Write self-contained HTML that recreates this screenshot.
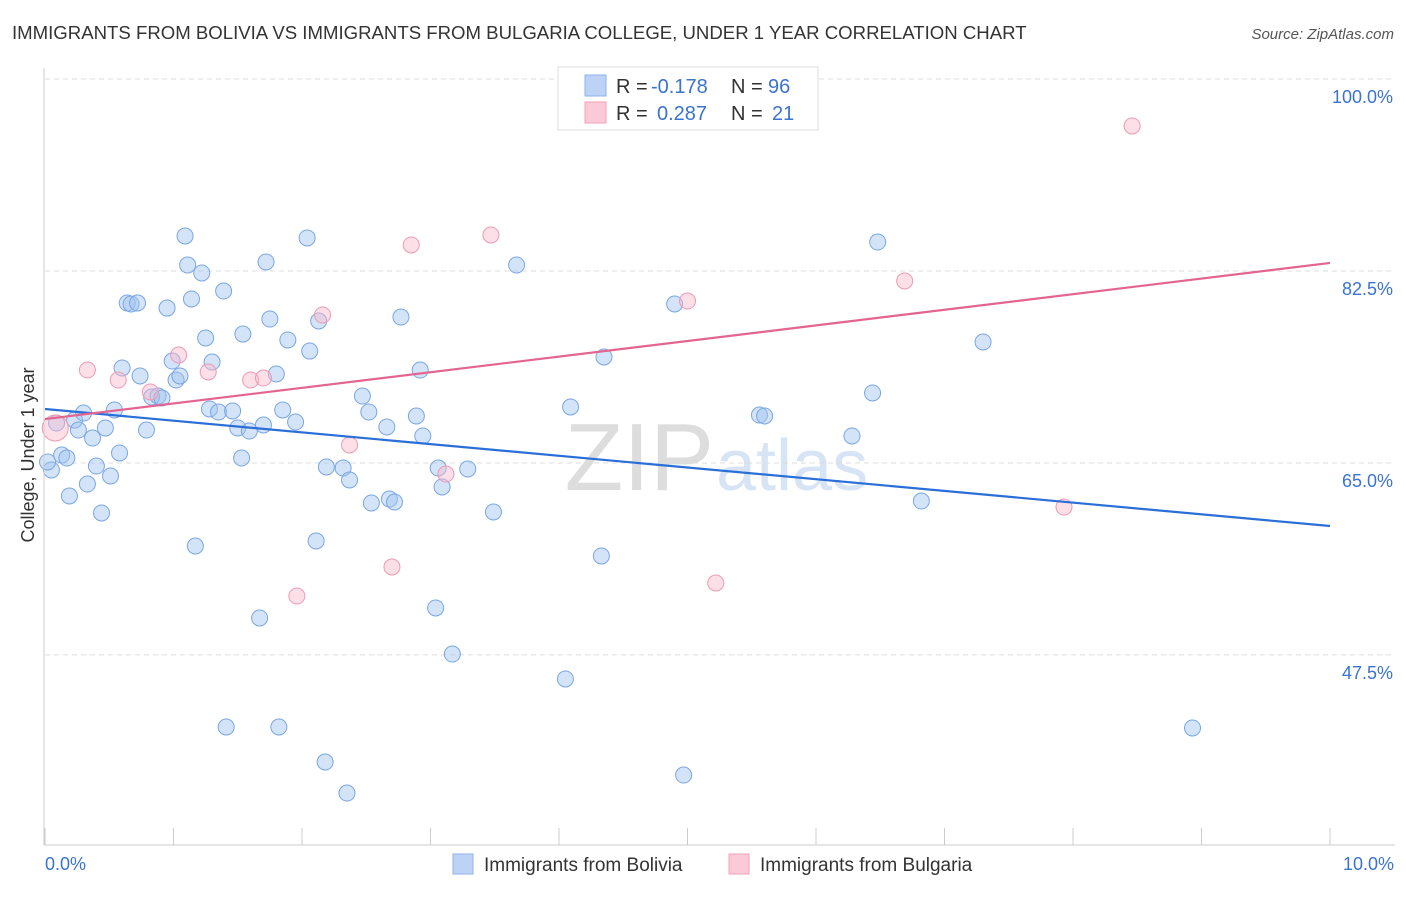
<!DOCTYPE html>
<html><head><meta charset="utf-8"><style>
body{margin:0;background:#fff;font-family:"Liberation Sans",sans-serif;}
svg text{font-family:"Liberation Sans",sans-serif;}
</style></head><body>
<svg id="chart" width="1406" height="892" xmlns="http://www.w3.org/2000/svg">
<text x="12" y="39" font-size="18.6" fill="#333">IMMIGRANTS FROM BOLIVIA VS IMMIGRANTS FROM BULGARIA COLLEGE, UNDER 1 YEAR CORRELATION CHART</text>
<text x="1394" y="39" font-size="15" fill="#555" font-style="italic" text-anchor="end">Source: ZipAtlas.com</text>
<text x="714" y="490" font-size="96" fill="#ddd" text-anchor="end" font-family="Liberation Serif">ZIP</text>
<text x="716" y="490" font-size="72" fill="#d6e4f5">atlas</text>
<text transform="translate(34,455) rotate(-90)" font-size="18" fill="#333" text-anchor="middle">College, Under 1 year</text>
<g id="grid"></g><g id="ticks"></g><g id="pts"></g><g id="lines"></g>
<line x1="44" y1="68" x2="44" y2="845" stroke="#ccc"/>
<line x1="44" y1="845" x2="1395" y2="845" stroke="#ccc"/>
<text x="45" y="870" font-size="18" fill="#3a73d0">0.0%</text>
<text x="1394" y="870" font-size="18" fill="#3a73d0" text-anchor="end">10.0%</text>
<g>
<rect x="558" y="67" width="260" height="63" fill="#fff" stroke="#ddd"/>
<rect x="585" y="75" width="21" height="21" fill="#bcd3f5" stroke="#8fb2e8"/>
<rect x="585" y="102" width="21" height="21" fill="#fbcad8" stroke="#f0a0b8"/>
<text x="616" y="93" font-size="20" fill="#333">R = </text><text x="651" y="93" font-size="20" fill="#3a73d0">-0.178</text>
<text x="731" y="93" font-size="20" fill="#333">N = </text><text x="768" y="93" font-size="20" fill="#3a73d0">96</text>
<text x="616" y="120" font-size="20" fill="#333">R = </text><text x="657" y="120" font-size="20" fill="#3a73d0">0.287</text>
<text x="731" y="120" font-size="20" fill="#333">N = </text><text x="772" y="120" font-size="20" fill="#3a73d0">21</text>
</g>
<g>
<rect x="453" y="854" width="20" height="20" fill="#bcd3f5" stroke="#8fb2e8"/>
<text x="484" y="871" font-size="19" fill="#333">Immigrants from Bolivia</text>
<rect x="729" y="854" width="20" height="20" fill="#fbcad8" stroke="#f0a0b8"/>
<text x="760" y="871" font-size="19" fill="#333">Immigrants from Bulgaria</text>
</g>
</svg>
<script>
const yTicks=[100,82.5,65,47.5];
const yTickLabels=["100.0%","82.5%","65.0%","47.5%"];
const xTicks=[0,1,2,3,4,5,6,7,8,9,10];
const boliviaX=[.05,.02,.09,.13,.17,.19,.23,.26,.30,.33,.37,.40,.44,.47,.51,.54,.58,.60,.64,.67,.72,.74,.79,.83,.88,.91,.95,.99,1.02,1.05,1.09,1.11,1.14,1.17,1.22,1.25,1.28,1.30,1.35,1.39,1.41,1.46,1.50,1.53,1.54,1.59,1.67,1.70,1.72,1.75,1.80,1.82,1.85,1.89,1.95,2.04,2.06,2.11,2.13,2.18,2.19,2.32,2.35,2.37,2.47,2.52,2.54,2.66,2.68,2.72,2.77,2.89,2.92,2.94,3.04,3.06,3.09,3.17,3.29,3.49,3.67,4.05,4.09,4.33,4.35,4.90,4.97,5.56,5.60,6.28,6.44,6.48,6.82,7.30,8.93];
const boliviaY=[64.36,65.09,68.64,65.72,65.45,61.99,68.91,68.00,69.55,63.08,67.27,64.72,60.44,68.19,63.81,69.83,65.91,73.66,79.58,79.49,79.58,72.93,68.00,71.01,71.10,70.92,79.12,74.29,72.56,72.93,85.69,83.04,79.95,57.43,82.32,76.39,69.92,74.20,69.64,80.67,40.93,69.74,68.19,65.45,76.75,67.91,50.87,68.46,83.32,78.12,73.11,40.93,69.83,76.21,68.73,85.51,75.20,57.89,77.94,37.74,64.63,64.54,34.91,63.45,71.10,69.64,61.35,68.28,61.71,61.44,78.30,69.28,73.47,67.46,51.78,64.54,62.81,47.58,64.45,60.53,83.04,45.31,70.10,56.52,74.66,79.49,36.55,69.37,69.28,67.46,71.38,85.14,61.53,76.03,40.84];
const bulgariaX=[.08,.33,.57,.82,1.04,1.27,1.60,1.70,1.96,2.16,2.37,2.70,2.85,3.12,3.47,5.00,5.22,5.67,6.69,7.93,8.46];
const bulgariaY=[68.19,73.47,72.56,71.47,74.84,73.29,72.56,72.74,52.87,78.49,66.64,55.52,84.87,63.99,85.78,79.76,54.06,99.91,81.59,60.98,95.72];
const boliviaTrend=[69.92,59.25];
const bulgariaTrend=[69.0,83.23];
const NS="http://www.w3.org/2000/svg";
const X=v=>45+v*128.5, Y=v=>79+(100-v)*10.97;
function mk(t,a,p){const e=document.createElementNS(NS,t);for(const k in a)e.setAttribute(k,a[k]);p.appendChild(e);return e;}
const grid=document.getElementById('grid'),ticks=document.getElementById('ticks'),pts=document.getElementById('pts'),lines=document.getElementById('lines');
let g0=mk('line',{x1:45,x2:1395,y1:79,y2:79,stroke:'#ddd','stroke-dasharray':'5,4'},grid);


yTicks.forEach((v,i)=>{
 const l=mk('line',{x1:45,x2:1395,y1:Y(v),y2:Y(v),stroke:'#ddd','stroke-dasharray':'5,4'},grid);
 
 
 const t=mk('text',{x:1393,y:Y(v)+24,'font-size':18,fill:'#3a73d0','text-anchor':'end'},ticks);
 t.textContent=yTickLabels[i];
 
 
});
xTicks.forEach(v=>{
 const l=mk('line',{x1:X(v),x2:X(v),y1:828,y2:845,stroke:'#ccc'},ticks);
 
 
});
boliviaX.forEach((v,i)=>{
 const c=mk('circle',{cx:X(v),cy:Y(boliviaY[i]),r:8,fill:'rgba(160,195,240,0.45)',stroke:'#7aa6e3','stroke-width':1},pts);
 
 
});
bulgariaX.forEach((v,i)=>{
 const c=mk('circle',{cx:X(v),cy:Y(bulgariaY[i]),r:i==0?13:8,fill:'rgba(250,185,205,0.45)',stroke:'#ee9ab5','stroke-width':1},pts);
 
 
});
const bl=mk('line',{x1:X(0),x2:X(10),y1:Y(boliviaTrend[0]),y2:Y(boliviaTrend[1]),stroke:'#2a6fd8','stroke-width':2.2},lines);


const pl=mk('line',{x1:X(0),x2:X(10),y1:Y(bulgariaTrend[0]),y2:Y(bulgariaTrend[1]),stroke:'#e3648f','stroke-width':2.2},lines);


</script>
</body></html>
